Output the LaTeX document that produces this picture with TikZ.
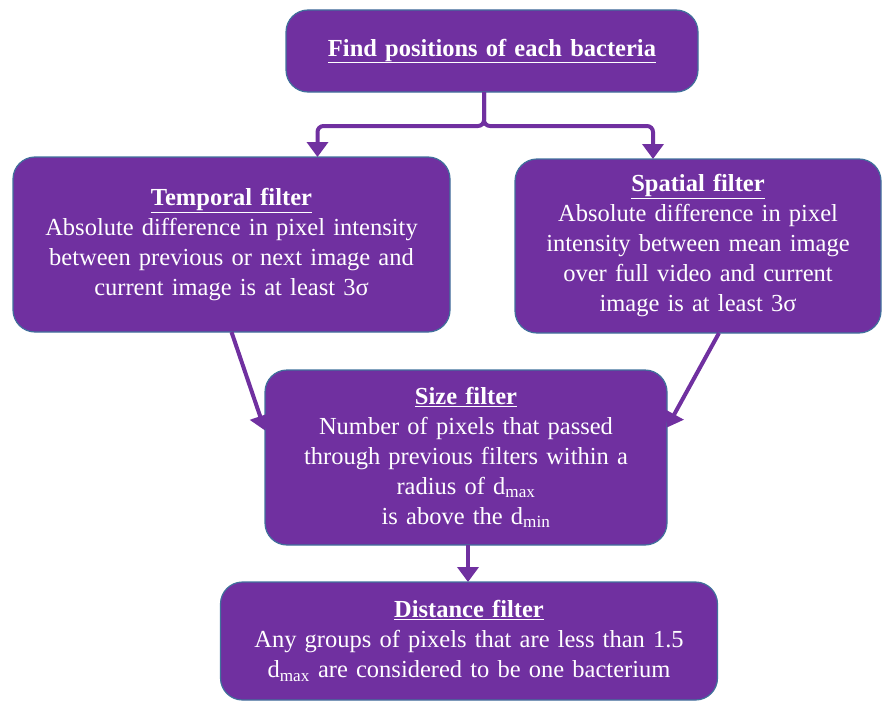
\documentclass[tikz,border=0pt]{standalone}
\usepackage{fontspec}
\setmainfont{Liberation Serif}
\usetikzlibrary{positioning,arrows.meta}

\definecolor{boxpurple}{HTML}{7030A0}
\definecolor{boxedge}{HTML}{41719C}

\begin{document}
\begin{tikzpicture}[
            > = {Triangle[width=21pt,length=15pt]}, % arrow head style
            link/.style = {->, draw = boxpurple, line width = 4pt}, % connector style
            node distance = 40pt
        ]

        \tikzstyle{filter}=[
            draw = boxedge,
            line width = 1.2pt,
            fill = boxpurple,
            rounded corners = 22pt,
            text = white,
            align = center,
            inner xsep = 8pt,
            inner ysep = 0pt,
            outer sep = 0pt,
            font = \fontsize{24.5}{30}\selectfont
        ]

        \useasboundingbox (0,0) rectangle (883pt,-701pt);

        \node[filter, text width=396pt, minimum height=82pt] (top) at (492pt,-51pt)
            {\underline{\textbf{Find positions of each bacteria}}};
        \node[filter, text width=421pt, minimum height=175pt] (temporal) [below=65pt of top, xshift=-260.5pt]
            {\underline{\textbf{Temporal filter}}\\
             Absolute difference in pixel intensity\\
             between previous or next image and\\
             current image is at least 3σ};
        \node[filter, text width=350pt, minimum height=174pt] (spatial) [below=67pt of top, xshift=206pt]
            {\underline{\textbf{Spatial filter}}\\
             Absolute difference in pixel\\
             intensity between mean image\\
             over full video and current\\
             image is at least 3σ};
        \node[filter, text width=386pt, minimum height=175pt] (size) [below=38pt of temporal, xshift=234.5pt]
            {\underline{\textbf{Size filter}}\\
             Number of pixels that passed\\
             through previous filters within a\\
             radius of d\textsubscript{max}\\
             is above the d\textsubscript{min}};
        \node[filter, text width=481pt, minimum height=118pt] (distance) [below=37pt of size, xshift=3pt]
            {\underline{\textbf{Distance filter}}\\
             Any groups of pixels that are less than 1.5\\
             d\textsubscript{max} are considered to be one bacterium};

        \draw[link, rounded corners=6pt] ([xshift=-8pt]top.south) -- ++(0,-34pt) -| ([xshift=86pt]temporal.north);
        \draw[link, rounded corners=6pt] ([xshift=-8pt]top.south) -- ++(0,-34pt) -| ([xshift=-45pt]spatial.north);
        \path (temporal.south) edge[link] ([yshift=27pt]size.west);
        \path ([xshift=21pt]spatial.south) edge[link] ([yshift=30pt]size.east);
        \path ([xshift=2pt]size.south) edge[link] ([xshift=-1pt]distance.north);

    \end{tikzpicture}
\end{document}
